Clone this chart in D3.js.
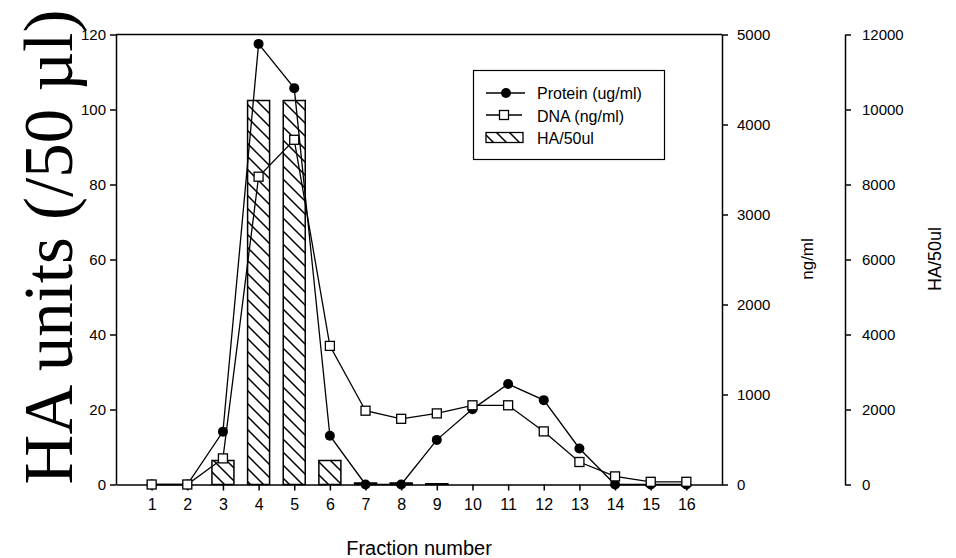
<!DOCTYPE html>
<html>
<head>
<meta charset="utf-8">
<script src="https://cdn.jsdelivr.net/npm/d3@7"></script>
<style>
body { margin: 0; background: #fff; }
text { font-family: Arial, "Liberation Sans", sans-serif; }
</style>
</head>
<body>
<div id="panel"></div>
<script>
// datos
var fracciones = [1, 2, 3, 4, 5, 6, 7, 8, 9, 10, 11, 12, 13, 14, 15, 16];
var proteina = [0, 0, 14.1, 117.5, 105.7, 13.0, 0, 0, 11.9, 20.1, 26.8, 22.5, 9.6, 0, 0, 0];
var adn = [0, 0, 290, 3420, 3830, 1540, 820, 730, 790, 880, 880, 590, 250, 90, 30, 30];
var ha = [0, 0, 640, 10240, 10240, 640, 40, 40, 20, 0, 0, 0, 0, 0, 0, 0];
var ticksIzq = [0, 20, 40, 60, 80, 100, 120];
var ticksAdn = [0, 1000, 2000, 3000, 4000, 5000];
var ticksHa = [0, 2000, 4000, 6000, 8000, 10000, 12000];
var leyenda = ["Protein (ug/ml)", "DNA (ng/ml)", "HA/50ul"];

var w = 956, h = 558;
var izq = 116, der = 722, arriba = 34.5, abajo = 484.5;
var ejeHa = 845;
var anchoBarra = 22;

var svg = d3.select('#panel')
	.append('svg')
	.attr("width", w)
	.attr("height", h);

var x = d3.scaleLinear().domain([0, 17]).range([izq, der]);
var yIzq = d3.scaleLinear().domain([0, 120]).range([abajo, arriba]);
var yAdn = d3.scaleLinear().domain([0, 5000]).range([abajo, arriba]);
var yHa = d3.scaleLinear().domain([0, 12000]).range([abajo, arriba]);
var fmt = d3.format("d");

// patron de rayas para las barras
svg.append("defs").append("pattern")
	.attr("id", "rayas")
	.attr("patternUnits", "userSpaceOnUse")
	.attr("width", 13)
	.attr("height", 13)
	.append("path")
	.attr("d", "M0,0L13,13M-4,9L4,17M9,-4L17,4")
	.attr("stroke", "#000")
	.attr("stroke-width", 1.5);

// barras HA
svg.selectAll("rect.barra")
	.data(fracciones.map(function (f, i) { return { f: f, v: ha[i] }; }).filter(function (d) { return d.v > 0; }))
	.enter()
	.append("rect")
	.attr("class", "barra")
	.attr("x", function (d) { return x(d.f) - anchoBarra / 2; })
	.attr("y", function (d) { return yHa(d.v); })
	.attr("width", anchoBarra)
	.attr("height", function (d) { return abajo - yHa(d.v); })
	.attr("fill", "url(#rayas)")
	.attr("stroke", "#000")
	.attr("stroke-width", 1.5);

function estiloEje(g) {
	g.selectAll("path, line").attr("stroke", "#000").attr("stroke-width", 1.5);
	g.selectAll("text").attr("font-size", 15).attr("font-family", "Arial, 'Liberation Sans', sans-serif").attr("fill", "#000");
}

// ejes
svg.append("g")
	.attr("transform", "translate(" + izq + ",0)")
	.call(d3.axisLeft(yIzq).tickValues(ticksIzq).tickFormat(fmt).tickSize(6).tickSizeOuter(0).tickPadding(4))
	.call(estiloEje);

svg.append("g")
	.attr("transform", "translate(" + der + ",0)")
	.call(d3.axisRight(yAdn).tickValues(ticksAdn).tickFormat(fmt).tickSize(6).tickSizeOuter(0).tickPadding(9))
	.call(estiloEje);

svg.append("g")
	.attr("transform", "translate(" + ejeHa + ",0)")
	.call(d3.axisRight(yHa).tickValues(ticksHa).tickFormat(fmt).tickSize(6).tickSizeOuter(0).tickPadding(11))
	.call(estiloEje);

svg.append("g")
	.attr("transform", "translate(0," + abajo + ")")
	.call(d3.axisBottom(x).tickValues(fracciones).tickFormat(fmt).tickSize(6).tickSizeOuter(0).tickPadding(8))
	.call(estiloEje)
	.selectAll("text").attr("font-size", 16);

// borde superior
svg.append("line")
	.attr("x1", izq).attr("x2", der)
	.attr("y1", arriba).attr("y2", arriba)
	.attr("stroke", "#000").attr("stroke-width", 1.5);

// lineas de datos
var lineaProt = d3.line()
	.x(function (d, i) { return x(fracciones[i]); })
	.y(function (d) { return yIzq(d); });
var lineaAdn = d3.line()
	.x(function (d, i) { return x(fracciones[i]); })
	.y(function (d) { return yAdn(d); });

svg.append("path").datum(proteina)
	.attr("d", lineaProt).attr("fill", "none").attr("stroke", "#000").attr("stroke-width", 1.3);
svg.selectAll("circle.prot")
	.data(proteina)
	.enter()
	.append("circle")
	.attr("class", "prot")
	.attr("cx", function (d, i) { return x(fracciones[i]); })
	.attr("cy", function (d) { return yIzq(d); })
	.attr("r", 5)
	.attr("fill", "#000");

svg.append("path").datum(adn)
	.attr("d", lineaAdn).attr("fill", "none").attr("stroke", "#000").attr("stroke-width", 1.3);
svg.selectAll("rect.adn")
	.data(adn)
	.enter()
	.append("rect")
	.attr("class", "adn")
	.attr("x", function (d, i) { return x(fracciones[i]) - 4.5; })
	.attr("y", function (d) { return yAdn(d) - 4.5; })
	.attr("width", 9)
	.attr("height", 9)
	.attr("fill", "#fff")
	.attr("stroke", "#000")
	.attr("stroke-width", 1.3);

// titulos
svg.append("text")
	.attr("transform", "translate(72,247) rotate(-90)")
	.attr("text-anchor", "middle")
	.style("font-family", "'Times New Roman', 'Liberation Serif', serif")
	.attr("font-size", 69)
	.text("HA units (/50 µl)");

svg.append("text")
	.attr("x", (izq + der) / 2)
	.attr("y", 555)
	.attr("text-anchor", "middle")
	.attr("font-size", 20)
	.text("Fraction number");

svg.append("text")
	.attr("transform", "translate(813,259) rotate(-90)")
	.attr("text-anchor", "middle")
	.attr("font-size", 17)
	.text("ng/ml");

svg.append("text")
	.attr("transform", "translate(941,259) rotate(-90)")
	.attr("text-anchor", "middle")
	.attr("font-size", 18)
	.text("HA/50ul");

// leyenda
var ley = svg.append("g");
ley.append("rect")
	.attr("x", 473.5).attr("y", 70.5).attr("width", 191).attr("height", 89)
	.attr("fill", "#fff").attr("stroke", "#000").attr("stroke-width", 1.2);

ley.append("line").attr("x1", 486).attr("x2", 525).attr("y1", 93).attr("y2", 93)
	.attr("stroke", "#000").attr("stroke-width", 1.3);
ley.append("circle").attr("cx", 506).attr("cy", 93).attr("r", 5).attr("fill", "#000");

ley.append("line").attr("x1", 486).attr("x2", 522).attr("y1", 115).attr("y2", 115)
	.attr("stroke", "#000").attr("stroke-width", 1.3);
ley.append("rect").attr("x", 499.5).attr("y", 110.5).attr("width", 9).attr("height", 9)
	.attr("fill", "#fff").attr("stroke", "#000").attr("stroke-width", 1.3);

ley.append("rect").attr("x", 486).attr("y", 132.5).attr("width", 37).attr("height", 10)
	.attr("fill", "url(#rayas)").attr("stroke", "#000").attr("stroke-width", 1.3);

ley.selectAll("text.ley")
	.data(leyenda)
	.enter()
	.append("text")
	.attr("class", "ley")
	.attr("x", 537)
	.attr("y", function (d, i) { return 99 + i * 22.5; })
	.attr("font-size", 16)
	.text(function (d) { return d; });
</script>
</body>
</html>
